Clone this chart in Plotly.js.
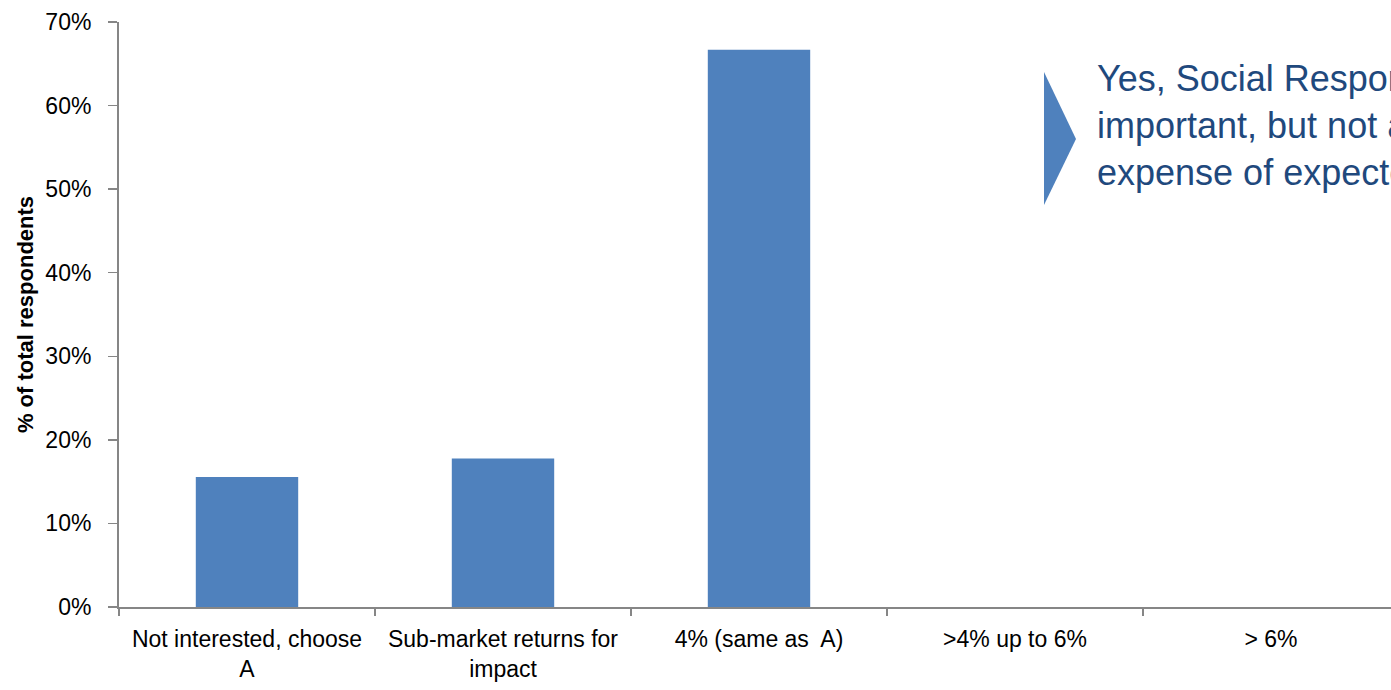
<!DOCTYPE html>
<html><head><meta charset="utf-8">
<script src="https://cdn.plot.ly/plotly-3.0.1.min.js"></script>
<style>html,body{margin:0;padding:0;overflow:hidden;background:#fff;width:1391px;height:690px}#c{width:1410px;height:690px}</style>
</head><body><div id="c"></div>
<script>
const categories = ["Not interested, choose<br>A", "Sub-market returns for<br>impact", "4% (same as  A)", ">4% up to 6%", "> 6%"];
const values = [0.1556, 0.1778, 0.6667, 0, 0];
const yTickVals = [0, 0.1, 0.2, 0.3, 0.4, 0.5, 0.6, 0.7];
const yTickText = ["0%", "10%", "20%", "30%", "40%", "50%", "60%", "70%"];
const calloutLines = ["Yes, Social Responsibility is", "important, but not at the", "expense of expected returns"];

const L = 119, R = 1399, T = 22, B = 607;
const pw = R - L, ph = B - T;
const px = x => (x - L) / pw, py = y => (B - y) / ph;

const trace = {type: "bar", x: categories, y: values, width: 0.4,
  marker: {color: "#4F81BD"}, hoverinfo: "skip"};
const layout = {
  width: 1410, height: 690,
  margin: {l: L, r: 1410 - R, t: T, b: 690 - B},
  paper_bgcolor: "#fff", plot_bgcolor: "#fff",
  showlegend: false, bargap: 0.6,
  font: {family: "Liberation Sans, sans-serif", size: 23, color: "#000"},
  xaxis: {type: "category", range: [-0.5, 4.5], showline: true, linecolor: "#868686", linewidth: 2,
    ticks: "outside", tickson: "boundaries", ticklen: 7, tickcolor: "#868686", tickwidth: 1.5,
    showgrid: false, zeroline: false, tickfont: {size: 23}, ticklabelstandoff: 10, automargin: false},
  yaxis: {range: [0, 0.7], tickvals: yTickVals, ticktext: yTickText, showline: true, linecolor: "#868686", linewidth: 2,
    ticks: "outside", ticklen: 9, tickcolor: "#868686", tickwidth: 1.5, showgrid: false, zeroline: false,
    tickfont: {size: 23}, ticklabelstandoff: 12, automargin: false,
    title: {text: "<b>% of total respondents</b>", font: {size: 22}, standoff: 6}},
  shapes: [{type: "path", xref: "paper", yref: "paper",
    path: `M ${px(1044)} ${py(72)} L ${px(1076)} ${py(139)} L ${px(1044)} ${py(205)} Z`,
    fillcolor: "#4F81BD", line: {width: 0}}],
  annotations: [{xref: "paper", yref: "paper", x: px(1095), y: py(56), xanchor: "left", yanchor: "top",
    align: "left", showarrow: false, text: calloutLines.join("<br>"),
    font: {family: "Liberation Sans, sans-serif", size: 36, color: "#1F497D"}}]
};
Plotly.newPlot("c", [trace], layout, {displayModeBar: false, staticPlot: true});
</script></body></html>
